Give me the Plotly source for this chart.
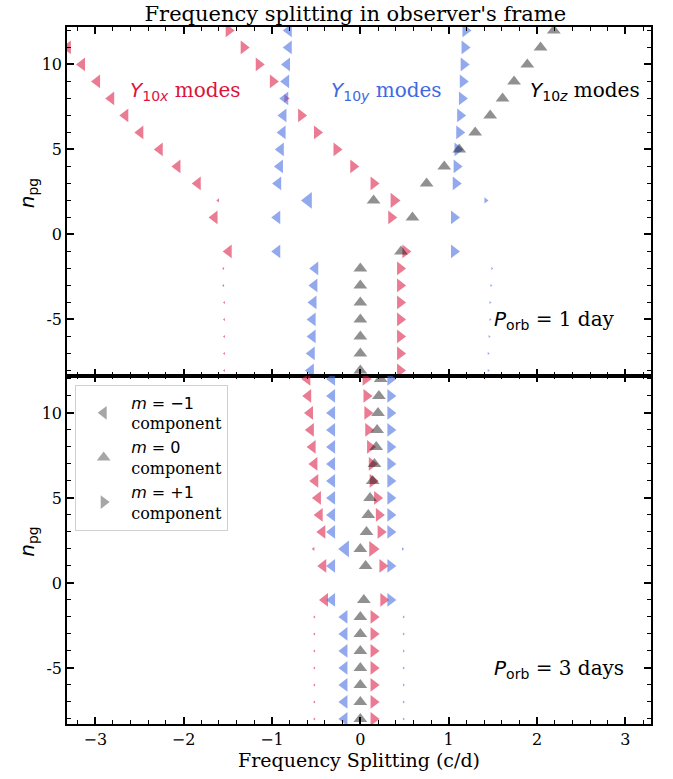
import plotly.graph_objects as go
from plotly.subplots import make_subplots

# ---------------- data ----------------
npg = [12, 11, 10, 9, 8, 7, 6, 5, 4, 3, 2, 1, -1, -2, -3, -4, -5, -6, -7, -8]

# P_orb = 1 day  (frequency splitting, c/d)
x1_xm = [-3.47, -3.31, -3.15, -2.98, -2.82, -2.66, -2.49, -2.27, -2.07, -1.84, -1.61, -1.65, -1.49,
         -1.55, -1.55, -1.54, -1.54, -1.54, -1.54, -1.54]
x1_xp = [-1.49, -1.32, -1.15, -0.99, -0.84, -0.67, -0.49, -0.27, -0.08, 0.15, 0.38, 0.35, 0.51,
         0.45, 0.45, 0.45, 0.45, 0.45, 0.45, 0.45]
x1_ym = [-0.81, -0.81, -0.83, -0.84, -0.85, -0.87, -0.88, -0.90, -0.91, -0.93, -0.59, -0.94, -0.94,
         -0.51, -0.52, -0.53, -0.54, -0.54, -0.55, -0.56]
x1_yp = [1.19, 1.18, 1.17, 1.16, 1.15, 1.13, 1.12, 1.10, 1.09, 1.08, 1.42, 1.06, 1.06,
         1.49, 1.48, 1.47, 1.47, 1.46, 1.45, 1.45]
x1_z0 = [2.19, 2.04, 1.89, 1.74, 1.61, 1.47, 1.30, 1.12, 0.95, 0.75, 0.15, 0.59, 0.46,
         0.0, 0.0, 0.0, 0.0, 0.0, 0.0, 0.0]

# relative amplitudes (marker weight)
a1_xm = [1, 1, 1, 1, 1, 1, 1, 1, 1, 1, 0.3, 1, 1, 0.22, 0.22, 0.22, 0.22, 0.22, 0.22, 0.22]
a1_xp = [1, 1, 1, 1, 0.6, 1, 1, 1, 1, 1, 1.1, 1, 1, 1, 1, 1, 1, 1, 1, 1]
a1_ym = [1, 1, 1, 1, 1, 1, 1, 1, 1, 1, 1.2, 1, 1, 1, 1, 1, 1, 1, 1, 1]
a1_yp = [1, 1, 1, 1, 1, 1, 1, 1, 1, 1, 0.45, 1, 1, 0.22, 0.22, 0.22, 0.22, 0.22, 0.22, 0.22]
a1_z0 = [1] * 20

# P_orb = 3 days
x3_xm = [-0.60, -0.59, -0.57, -0.56, -0.54, -0.52, -0.51, -0.48, -0.46, -0.43, -0.53, -0.42, -0.40,
         -0.52, -0.52, -0.52, -0.52, -0.52, -0.52, -0.52]
x3_xp = [0.06, 0.07, 0.08, 0.09, 0.11, 0.13, 0.14, 0.19, 0.21, 0.23, 0.14, 0.25, 0.26,
         0.15, 0.15, 0.15, 0.15, 0.15, 0.15, 0.15]
x3_ym = [-0.32, -0.32, -0.32, -0.32, -0.32, -0.32, -0.32, -0.32, -0.32, -0.32, -0.17, -0.32, -0.32,
         -0.18, -0.18, -0.18, -0.18, -0.18, -0.18, -0.18]
x3_yp = [0.34, 0.34, 0.34, 0.34, 0.34, 0.34, 0.34, 0.34, 0.34, 0.34, 0.48, 0.34, 0.34,
         0.49, 0.49, 0.49, 0.49, 0.49, 0.49, 0.49]
x3_z0 = [0.23, 0.21, 0.20, 0.19, 0.18, 0.16, 0.14, 0.11, 0.09, 0.07, 0.00, 0.06, 0.04,
         0.0, 0.0, 0.0, 0.0, 0.0, 0.0, 0.0]

a3_xm = [1, 1, 1, 1, 1, 1, 1, 1, 1, 1, 0.3, 1, 1, 0.22, 0.22, 0.22, 0.22, 0.22, 0.22, 0.22]
a3_xp = [1, 1, 1, 1, 1, 1, 1, 1, 1, 1, 1.15, 1, 1, 1, 1, 1, 1, 1, 1, 1]
a3_ym = [1, 1, 1, 1, 1, 1, 1, 1, 1, 1, 1.2, 1, 1, 1, 1, 1, 1, 1, 1, 1]
a3_yp = [1, 1, 1, 1, 1, 1, 1, 1, 1, 1, 0.25, 1, 1, 0.22, 0.22, 0.22, 0.22, 0.22, 0.22, 0.22]
a3_z0 = [1] * 20

legend_m = ["−1", "0", "+1"]
orbit_labels = ["1 day", "3 days"]

# ---------------- styles ----------------
RED = "rgba(220,20,60,0.8)"
BLUE = "rgba(65,105,225,0.82)"
BLACK = "rgba(0,0,0,0.62)"
GREY = "rgba(0,0,0,0.35)"
SERIF = "DejaVu Serif"
SANS = "DejaVu Sans"
BASE = 12


def sans(t):
    return f"<span style=\"font-family:'{SANS}'\">{t}</span>"


def serif(t):
    return f"<span style=\"font-family:'{SERIF}'\">{t}</span>"


fig = make_subplots(rows=2, cols=1, shared_xaxes=True, vertical_spacing=0)


def add(xv, amp, symbol, color, row):
    fig.add_trace(
        go.Scatter(
            x=xv, y=npg, mode="markers", showlegend=False, hoverinfo="skip",
            marker=dict(symbol=symbol, color=color, size=[BASE * a for a in amp],
                        line=dict(width=0)),
        ),
        row=row, col=1,
    )


for row, sets in [
    (1, [(x1_xm, a1_xm, "triangle-left", RED), (x1_xp, a1_xp, "triangle-right", RED),
         (x1_ym, a1_ym, "triangle-left", BLUE), (x1_yp, a1_yp, "triangle-right", BLUE),
         (x1_z0, a1_z0, "triangle-up", BLACK)]),
    (2, [(x3_xm, a3_xm, "triangle-left", RED), (x3_xp, a3_xp, "triangle-right", RED),
         (x3_ym, a3_ym, "triangle-left", BLUE), (x3_yp, a3_yp, "triangle-right", BLUE),
         (x3_z0, a3_z0, "triangle-up", BLACK)]),
]:
    for xv, amp, sym, col in sets:
        add(xv, amp, sym, col, row)

# legend entries
for mval, sym in zip(legend_m, ["triangle-left", "triangle-up", "triangle-right"]):
    txt = sans(f"<i>m</i> = {mval}") + "<br>" + serif("component")
    fig.add_trace(
        go.Scatter(x=[None], y=[None], mode="markers", name=txt,
                   marker=dict(symbol=sym, color=GREY, size=12)),
        row=2, col=1,
    )

axis_common = dict(
    showline=True, linecolor="black", linewidth=1.6, mirror="allticks",
    ticks="inside", ticklen=7, tickwidth=1.6, tickcolor="black",
    showgrid=False, zeroline=False,
    tickfont=dict(family=SERIF, size=16, color="black"),
)

for r in (1, 2):
    fig.update_xaxes(range=[-3.32, 3.29], dtick=1, tick0=0,
                     minor=dict(dtick=0.2, ticks="inside", ticklen=4, tickwidth=1, tickcolor="black"),
                     row=r, col=1, **axis_common)
    fig.update_yaxes(range=[-8.3, 12.2], tickvals=[-5, 0, 5, 10], ticktext=["-5", "0", "5", "10"],
                     minor=dict(dtick=1, tick0=0, ticks="inside", ticklen=4, tickwidth=1, tickcolor="black"),
                     row=r, col=1, **axis_common)

fig.update_xaxes(title=dict(text="Frequency Splitting (c/d)", font=dict(family=SERIF, size=19, color="black"),
                            standoff=4), row=2, col=1)

# y-axis titles (as annotations so they sit where the reference has them)
for yc in (0.75, 0.25):
    fig.add_annotation(x=0, y=yc, xref="paper", yref="paper", xshift=-39, yshift=8,
                       text="<i>n</i><sub>pg</sub>", textangle=-90, showarrow=False,
                       xanchor="center", yanchor="middle",
                       font=dict(family=SANS, size=20, color="black"))


def lab_text(sub):
    return sans(f"<i>Y</i><sub>10<i>{sub}</i></sub>") + serif(" modes")


annos = [
    (-2.63, lab_text("x"), "rgb(220,20,60)"),
    (-0.36, lab_text("y"), "rgb(65,105,225)"),
    (1.90, lab_text("z"), "black"),
]
for xa, txt, col in annos:
    fig.add_annotation(x=xa, y=8.45, xref="x", yref="y", text=txt,
                       showarrow=False, xanchor="left", yanchor="middle",
                       font=dict(family=SERIF, size=20, color=col))

for (xr, yr), lab in zip([("x", "y"), ("x2", "y2")], orbit_labels):
    fig.add_annotation(x=1.49, y=-5.05, xref=xr, yref=yr,
                       text=sans("<i>P</i><sub>orb</sub>") + serif(f" = {lab}"),
                       showarrow=False, xanchor="left", yanchor="middle",
                       font=dict(family=SERIF, size=20, color="black"))

fig.update_layout(
    width=673, height=779,
    margin=dict(l=67, r=22, t=27, b=55),
    paper_bgcolor="white", plot_bgcolor="white",
    title=dict(text="Frequency splitting in observer's frame", x=0.528, xanchor="center",
               y=0.982, yanchor="middle", font=dict(family=SERIF, size=21, color="black")),
    showlegend=True,
    legend=dict(x=0.014, y=0.487, xanchor="left", yanchor="top", bgcolor="white",
                bordercolor="#d0d0d0", borderwidth=1, itemwidth=45,
                font=dict(family=SERIF, size=16, color="black"), tracegroupgap=0),
)

fig.write_html("out.html")
